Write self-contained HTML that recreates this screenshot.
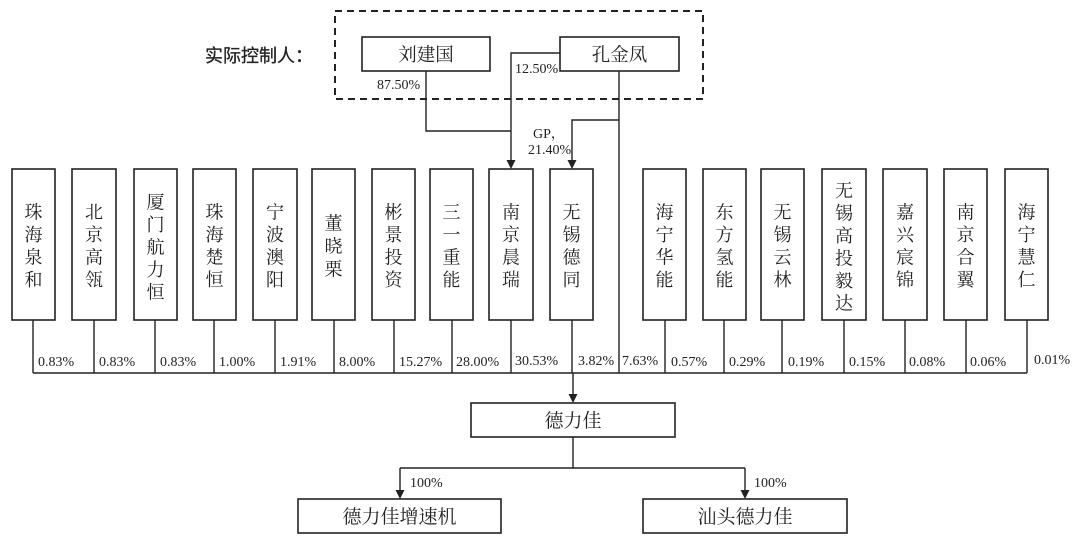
<!DOCTYPE html>
<html>
<head>
<meta charset="utf-8">
<style>
  html, body { margin: 0; padding: 0; background: #fff; }
  body { width: 1080px; height: 550px; overflow: hidden; }
  svg { display: block; }
  .cn { font-family: "Liberation Serif", "Noto Serif CJK SC", serif; fill: #222; }
  .num { font-family: "Liberation Serif", "Noto Serif CJK SC", serif; font-size: 14px; fill: #222; }
  .box { fill: #fff; stroke: #222; stroke-width: 1.6; }
  .ln { fill: none; stroke: #222; stroke-width: 1.4; }
  .ah { fill: #222; }
</style>
</head>
<body>
<svg width="1080" height="550" viewBox="0 0 1080 550" xmlns="http://www.w3.org/2000/svg">
  <rect x="0" y="0" width="1080" height="550" fill="#fff"/>

  <!-- dashed controller frame -->
  <rect x="335" y="11" width="368" height="88" fill="none" stroke="#222" stroke-width="2" stroke-dasharray="7 5"/>

  <text x="205" y="62" font-family="Liberation Sans, 'Noto Sans CJK SC', sans-serif" font-size="18" fill="#222" stroke="#222" stroke-width="0.3">实际控制人：</text>

  <!-- connectors top -->
  <path class="ln" d="M426 71 V131 H511"/>
  <path class="ln" d="M560 53 H511 V161"/>
  <path class="ln" d="M619 71 V373"/>
  <path class="ln" d="M619 120 H572 V161"/>
  <polygon class="ah" points="506.5,160 515.5,160 511,169"/>
  <polygon class="ah" points="567.5,160 576.5,160 572,169"/>

  <!-- controller boxes -->
  <rect class="box" x="362" y="37" width="128" height="34"/>
  <text class="cn" x="426" y="61" font-size="18.5" text-anchor="middle">刘建国</text>
  <rect class="box" x="560" y="37" width="119" height="34"/>
  <text class="cn" x="619.5" y="61" font-size="18.5" text-anchor="middle">孔金凤</text>

  <text class="num" x="377" y="89">87.50%</text>
  <text class="num" x="515" y="73">12.50%</text>
  <text class="num" x="533" y="138">GP，</text>
  <text class="num" x="528" y="154">21.40%</text>

  <!-- shareholder vertical lines and bus -->
  <path class="ln" d="M33 320V373 M94 320V373 M155 320V373 M214 320V373 M275 320V373 M334 320V373 M394 320V373 M452 320V373 M511 320V373 M572 320V373 M665 320V373 M724 320V373 M782 320V373 M844 320V373 M905 320V373 M966 320V373 M1027 320V373"/>
  <path class="ln" d="M33 373 H1027"/>
  <path class="ln" d="M573 373 V395"/>
  <polygon class="ah" points="568.5,394 577.5,394 573,403"/>

  <!-- shareholder boxes -->
  <g>
    <rect class="box" x="12" y="169" width="43" height="151"/>
    <rect class="box" x="72" y="169" width="44" height="151"/>
    <rect class="box" x="134" y="169" width="43" height="151"/>
    <rect class="box" x="193" y="169" width="43" height="151"/>
    <rect class="box" x="253" y="169" width="44" height="151"/>
    <rect class="box" x="312" y="169" width="43" height="151"/>
    <rect class="box" x="372" y="169" width="43" height="151"/>
    <rect class="box" x="430" y="169" width="43" height="151"/>
    <rect class="box" x="489" y="169" width="44" height="151"/>
    <rect class="box" x="550" y="169" width="43" height="151"/>
    <rect class="box" x="643" y="169" width="43" height="151"/>
    <rect class="box" x="703" y="169" width="43" height="151"/>
    <rect class="box" x="761" y="169" width="43" height="151"/>
    <rect class="box" x="822" y="169" width="44" height="151"/>
    <rect class="box" x="883" y="169" width="44" height="151"/>
    <rect class="box" x="944" y="169" width="43" height="151"/>
    <rect class="box" x="1005" y="169" width="43" height="151"/>
  </g>

  <g class="cn" font-size="18" text-anchor="middle">
    <text x="33.5" y="218.5">珠</text><text x="33.5" y="241">海</text><text x="33.5" y="263.5">泉</text><text x="33.5" y="286">和</text>
    <text x="94" y="218.5">北</text><text x="94" y="241">京</text><text x="94" y="263.5">高</text><text x="94" y="286">瓴</text>
    <text x="155.5" y="208.5">厦</text><text x="155.5" y="231">门</text><text x="155.5" y="253.5">航</text><text x="155.5" y="276">力</text><text x="155.5" y="298.5">恒</text>
    <text x="214.5" y="218.5">珠</text><text x="214.5" y="241">海</text><text x="214.5" y="263.5">楚</text><text x="214.5" y="286">恒</text>
    <text x="275" y="218.5">宁</text><text x="275" y="241">波</text><text x="275" y="263.5">澳</text><text x="275" y="286">阳</text>
    <text x="333.5" y="229.5">董</text><text x="333.5" y="252.5">晓</text><text x="333.5" y="275.5">栗</text>
    <text x="393.5" y="218.5">彬</text><text x="393.5" y="241">景</text><text x="393.5" y="263.5">投</text><text x="393.5" y="286">资</text>
    <text x="451.5" y="218.5">三</text><text x="451.5" y="241">一</text><text x="451.5" y="263.5">重</text><text x="451.5" y="286">能</text>
    <text x="511" y="218.5">南</text><text x="511" y="241">京</text><text x="511" y="263.5">晨</text><text x="511" y="286">瑞</text>
    <text x="571.5" y="218.5">无</text><text x="571.5" y="241">锡</text><text x="571.5" y="263.5">德</text><text x="571.5" y="286">同</text>
    <text x="664.5" y="218.5">海</text><text x="664.5" y="241">宁</text><text x="664.5" y="263.5">华</text><text x="664.5" y="286">能</text>
    <text x="724.5" y="218.5">东</text><text x="724.5" y="241">方</text><text x="724.5" y="263.5">氢</text><text x="724.5" y="286">能</text>
    <text x="782.5" y="218.5">无</text><text x="782.5" y="241">锡</text><text x="782.5" y="263.5">云</text><text x="782.5" y="286">林</text>
    <text x="844" y="197">无</text><text x="844" y="219.5">锡</text><text x="844" y="242">高</text><text x="844" y="264.5">投</text><text x="844" y="287">毅</text><text x="844" y="309.5">达</text>
    <text x="905" y="218.5">嘉</text><text x="905" y="241">兴</text><text x="905" y="263.5">宸</text><text x="905" y="286">锦</text>
    <text x="965.5" y="218.5">南</text><text x="965.5" y="241">京</text><text x="965.5" y="263.5">合</text><text x="965.5" y="286">翼</text>
    <text x="1026.5" y="218.5">海</text><text x="1026.5" y="241">宁</text><text x="1026.5" y="263.5">慧</text><text x="1026.5" y="286">仁</text>
  </g>

  <!-- percentages -->
  <g class="num">
    <text x="38" y="366">0.83%</text>
    <text x="99" y="366">0.83%</text>
    <text x="160" y="366">0.83%</text>
    <text x="219" y="366">1.00%</text>
    <text x="280" y="366">1.91%</text>
    <text x="339" y="366">8.00%</text>
    <text x="399" y="366">15.27%</text>
    <text x="456" y="366">28.00%</text>
    <text x="515" y="365">30.53%</text>
    <text x="578" y="365">3.82%</text>
    <text x="622" y="365">7.63%</text>
    <text x="671" y="366">0.57%</text>
    <text x="729" y="366">0.29%</text>
    <text x="788" y="366">0.19%</text>
    <text x="849" y="366">0.15%</text>
    <text x="909" y="366">0.08%</text>
    <text x="970" y="366">0.06%</text>
    <text x="1034" y="364">0.01%</text>
  </g>

  <!-- 德力佳 -->
  <rect class="box" x="471" y="403" width="204" height="34"/>
  <text class="cn" x="573" y="427" font-size="19" text-anchor="middle">德力佳</text>

  <path class="ln" d="M573 437 V468 M400 468 H745 M400 468 V491 M745 468 V491"/>
  <polygon class="ah" points="395.5,490 404.5,490 400,499"/>
  <polygon class="ah" points="740.5,490 749.5,490 745,499"/>
  <text class="num" x="410" y="487">100%</text>
  <text class="num" x="754" y="487">100%</text>

  <rect class="box" x="298" y="499" width="203" height="34"/>
  <text class="cn" x="399.5" y="523" font-size="19" text-anchor="middle">德力佳增速机</text>
  <rect class="box" x="643" y="499" width="204" height="34"/>
  <text class="cn" x="745" y="523" font-size="19" text-anchor="middle">汕头德力佳</text>
</svg>
</body>
</html>
